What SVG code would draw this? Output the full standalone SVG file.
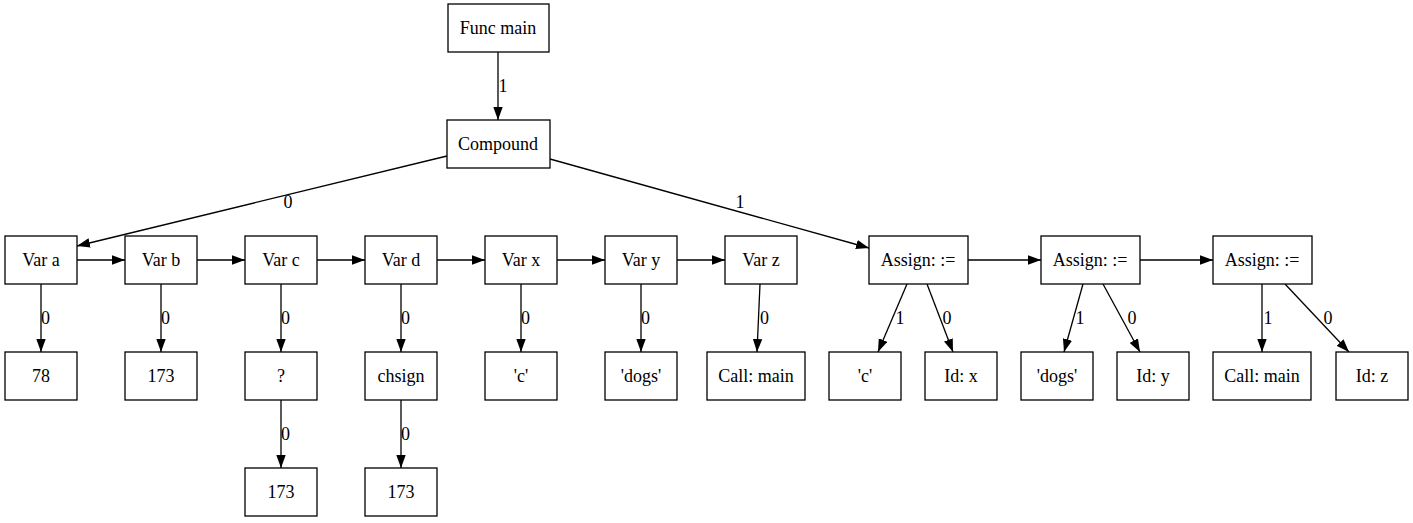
<svg xmlns="http://www.w3.org/2000/svg" width="1413" height="523" viewBox="0 0 1413 523">
<style>
rect{fill:#fff;stroke:#000;stroke-width:1.3}
text{font-family:"Liberation Serif","Times New Roman",serif;font-size:18px;fill:#000;text-anchor:middle}
.e line{stroke:#000;stroke-width:1.3;marker-end:url(#ah)}
</style>
<defs>
<marker id="ah" markerUnits="userSpaceOnUse" markerWidth="13" markerHeight="10" refX="13" refY="5" orient="auto">
<path d="M0,0.3 L13,5 L0,9.7 z" fill="#000"/>
</marker>
</defs>
<rect x="0" y="0" width="1413" height="523" style="stroke:none"/>
<g class="e" id="edges">
<line x1="498" y1="52" x2="498" y2="120"/>
<line x1="447" y1="156" x2="77" y2="246"/>
<line x1="550" y1="159" x2="869" y2="248"/>
<line x1="77" y1="260" x2="125" y2="260"/>
<line x1="197" y1="260" x2="245" y2="260"/>
<line x1="317" y1="260" x2="365" y2="260"/>
<line x1="437" y1="260" x2="485" y2="260"/>
<line x1="557" y1="260" x2="605" y2="260"/>
<line x1="677" y1="260" x2="725" y2="260"/>
<line x1="968" y1="260" x2="1041" y2="260"/>
<line x1="1140" y1="260" x2="1213" y2="260"/>
<line x1="41" y1="284" x2="41" y2="352"/>
<line x1="161" y1="284" x2="161" y2="352"/>
<line x1="281" y1="284" x2="281" y2="352"/>
<line x1="401" y1="284" x2="401" y2="352"/>
<line x1="521" y1="284" x2="521" y2="352"/>
<line x1="641" y1="284" x2="641" y2="352"/>
<line x1="760" y1="284" x2="757" y2="352"/>
<line x1="907" y1="284" x2="878" y2="352"/>
<line x1="927" y1="284" x2="953" y2="352"/>
<line x1="1083" y1="284" x2="1064" y2="352"/>
<line x1="1103" y1="284" x2="1140" y2="352"/>
<line x1="1262" y1="284" x2="1262" y2="352"/>
<line x1="1285" y1="284" x2="1349" y2="352"/>
<line x1="281" y1="400" x2="281" y2="468"/>
<line x1="401" y1="400" x2="401" y2="468"/>
<text x="503" y="92">1</text>
<text x="288" y="208">0</text>
<text x="740" y="208">1</text>
<text x="45.5" y="324">0</text>
<text x="165.5" y="324">0</text>
<text x="285.5" y="324">0</text>
<text x="405.5" y="324">0</text>
<text x="525.5" y="324">0</text>
<text x="645.5" y="324">0</text>
<text x="764.5" y="324">0</text>
<text x="900" y="324">1</text>
<text x="947" y="324">0</text>
<text x="1080" y="324">1</text>
<text x="1132" y="324">0</text>
<text x="1268" y="324">1</text>
<text x="1328" y="324">0</text>
<text x="285.5" y="440">0</text>
<text x="405.5" y="440">0</text>
</g>
<g id="funcmain"><rect x="448" y="4" width="101" height="48"/><text x="498" y="34">Func main</text></g>
<g id="compound"><rect x="447" y="120" width="103" height="48"/><text x="498" y="150">Compound</text></g>
<g id="vara"><rect x="5" y="236" width="72" height="48"/><text x="41" y="266">Var a</text></g>
<g id="varb"><rect x="125" y="236" width="72" height="48"/><text x="161" y="266">Var b</text></g>
<g id="varc"><rect x="245" y="236" width="72" height="48"/><text x="281" y="266">Var c</text></g>
<g id="vard"><rect x="365" y="236" width="72" height="48"/><text x="401" y="266">Var d</text></g>
<g id="varx"><rect x="485" y="236" width="72" height="48"/><text x="521" y="266">Var x</text></g>
<g id="vary"><rect x="605" y="236" width="72" height="48"/><text x="641" y="266">Var y</text></g>
<g id="varz"><rect x="725" y="236" width="72" height="48"/><text x="761" y="266">Var z</text></g>
<g id="assign1"><rect x="869" y="236" width="99" height="48"/><text x="918" y="266">Assign: :=</text></g>
<g id="assign2"><rect x="1041" y="236" width="99" height="48"/><text x="1090" y="266">Assign: :=</text></g>
<g id="assign3"><rect x="1213" y="236" width="99" height="48"/><text x="1262" y="266">Assign: :=</text></g>
<g id="n78"><rect x="5" y="352" width="72" height="48"/><text x="41" y="382">78</text></g>
<g id="n173a"><rect x="125" y="352" width="72" height="48"/><text x="161" y="382">173</text></g>
<g id="nq"><rect x="245" y="352" width="72" height="48"/><text x="281" y="382">?</text></g>
<g id="nchsign"><rect x="365" y="352" width="72" height="48"/><text x="401" y="382">chsign</text></g>
<g id="nc"><rect x="485" y="352" width="72" height="48"/><text x="521" y="382">'c'</text></g>
<g id="ndogs"><rect x="605" y="352" width="72" height="48"/><text x="641" y="382">'dogs'</text></g>
<g id="ncallmain"><rect x="707" y="352" width="98" height="48"/><text x="756" y="382">Call: main</text></g>
<g id="nc2"><rect x="829" y="352" width="72" height="48"/><text x="865" y="382">'c'</text></g>
<g id="nidx"><rect x="925" y="352" width="72" height="48"/><text x="961" y="382">Id: x</text></g>
<g id="ndogs2"><rect x="1021" y="352" width="72" height="48"/><text x="1057" y="382">'dogs'</text></g>
<g id="nidy"><rect x="1117" y="352" width="72" height="48"/><text x="1153" y="382">Id: y</text></g>
<g id="ncallmain2"><rect x="1213" y="352" width="98" height="48"/><text x="1262" y="382">Call: main</text></g>
<g id="nidz"><rect x="1336" y="352" width="72" height="48"/><text x="1372" y="382">Id: z</text></g>
<g id="n173b"><rect x="245" y="468" width="72" height="48"/><text x="281" y="498">173</text></g>
<g id="n173c"><rect x="365" y="468" width="72" height="48"/><text x="401" y="498">173</text></g>
</svg>
